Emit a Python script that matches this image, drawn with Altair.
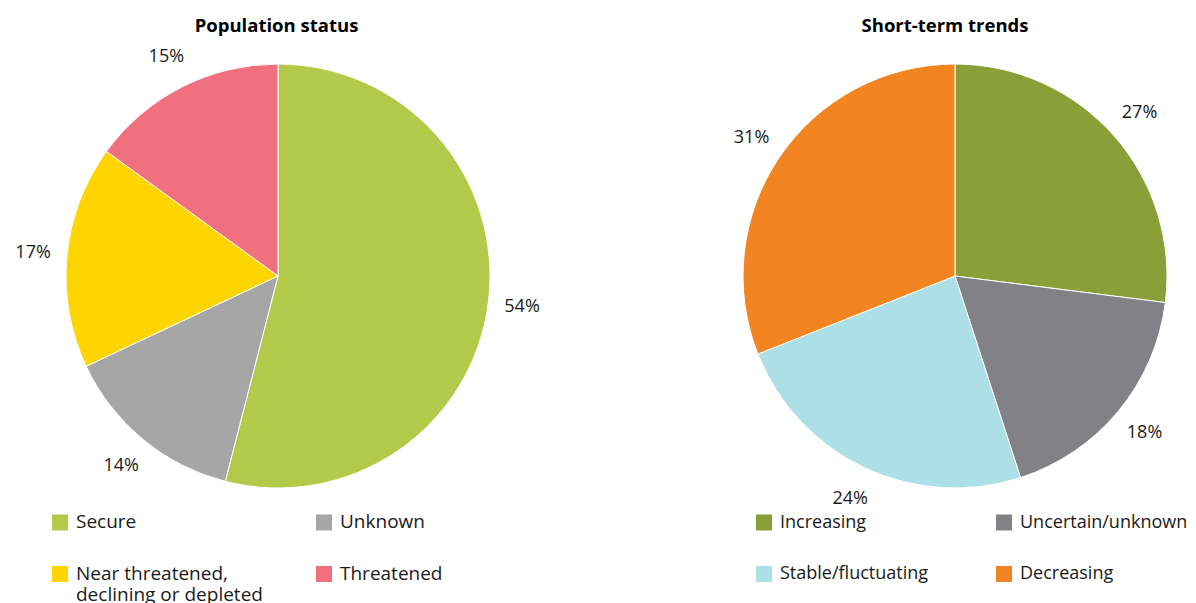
import altair as alt
import pandas as pd

FONT = "Open Sans"
TEXT_COLOR = "#1a1a1a"

# ---- data ----
status_title = "Population status"
status_cats = ["Secure", "Unknown", "Near threatened, declining or depleted", "Threatened"]
status_legend = ["Secure", "Unknown", "Near threatened,\ndeclining or depleted", "Threatened"]
status_vals = [54, 14, 17, 15]
status_colors = ["#b3c94a", "#a6a6a6", "#ffd500", "#f0707f"]

trend_title = "Short-term trends"
trend_cats = ["Increasing", "Uncertain/unknown", "Stable/fluctuating", "Decreasing"]
trend_legend = ["Increasing", "Uncertain/unknown", "Stable/fluctuating", "Decreasing"]
trend_vals = [27, 18, 24, 31]
trend_colors = ["#8a9f38", "#828286", "#addfe6", "#f28422"]


def panel(title, cats, legend_labels, vals, colors, width, x_range, title_dx, legend_size):
    df = pd.DataFrame({
        "cat": cats,
        "value": vals,
        "idx": list(range(len(cats))),
        "pct": [f"{v}%" for v in vals],
        "legend": legend_labels,
        "col": [i % 2 for i in range(len(cats))],
        "row": [i // 2 for i in range(len(cats))],
    })
    base = alt.Chart(df)
    color = alt.Color("cat:N", scale=alt.Scale(domain=cats, range=colors), legend=None)
    theta = alt.Theta("value:Q", stack=True)
    order = alt.Order("idx:Q", sort="ascending")

    pie = base.mark_arc(outerRadius=212, stroke="white", strokeWidth=1).encode(
        theta=theta, color=color, order=order
    )
    pct = base.mark_text(radius=246, font=FONT, fontSize=18, color=TEXT_COLOR).encode(
        theta=theta, order=order, text="pct:N"
    )
    x = alt.X("col:Q", scale=alt.Scale(domain=[0, 1], range=x_range), axis=None)
    y = alt.Y("row:Q", scale=alt.Scale(domain=[0, 1], range=[486.5, 538]), axis=None)
    sq = base.mark_square(size=256, opacity=1).encode(x=x, y=y, color=color)
    lt = base.mark_text(
        align="left", baseline="top", dx=16, dy=-0.5 * legend_size, lineBreak="\n",
        font=FONT, fontSize=legend_size, lineHeight=21, color=TEXT_COLOR
    ).encode(x=x, y=y, text="legend:N")

    return alt.layer(pie, pct, sq, lt).properties(
        width=width,
        height=480,
        title=alt.TitleParams(
            title, font=FONT, fontSize=18.5, fontWeight="bold", color="#000000",
            anchor="middle", baseline="alphabetic", offset=-14, dx=title_dx
        ),
    )


left = panel(status_title, status_cats, status_legend, status_vals, status_colors,
             540, [52, 316], -1.5, 19)
right = panel(trend_title, trend_cats, trend_legend, trend_vals, trend_colors,
              460, [39, 279], -10, 18)

chart = alt.hconcat(left, right, spacing=177).resolve_scale(
    color="independent", x="independent", y="independent"
).properties(
    padding={"left": 0, "top": 8, "right": -2, "bottom": 0}
).configure_view(strokeOpacity=0)

chart.save("out.html", embed_options={"renderer": "svg", "actions": False})
